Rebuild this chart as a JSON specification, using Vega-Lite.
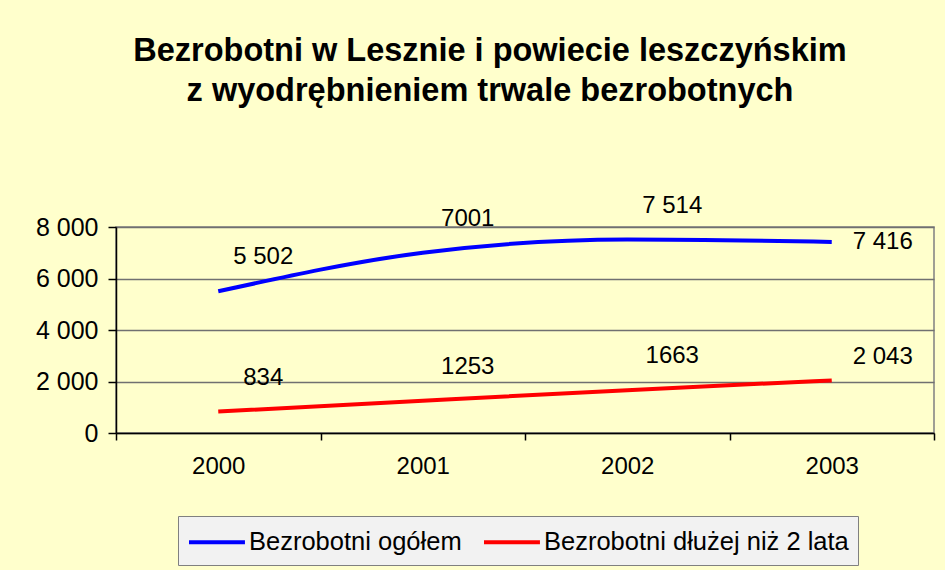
{
  "$schema": "https://vega.github.io/schema/vega-lite/v6.json",
  "autosize": {"type": "none"},
  "width": 818,
  "height": 206,
  "padding": {"left": 116, "top": 227, "right": 11, "bottom": 137},
  "background": "#FFFFCC",
  "title": {
    "text": ["Bezrobotni w Lesznie i powiecie leszczyńskim", "z wyodrębnieniem trwale bezrobotnych"],
    "font": "Liberation Sans",
    "fontSize": 32.5,
    "fontWeight": "bold",
    "lineHeight": 40,
    "color": "#000000",
    "anchor": "middle",
    "dx": -35,
    "offset": 86
  },
  "config": {
    "view": {"stroke": "#808080", "strokeWidth": 1.5},
    "font": "Liberation Sans"
  },
  "data": {
    "values": [
      {"year": "2000", "series": "Bezrobotni ogółem", "value": 5502, "label": "5 502"},
      {"year": "2001", "series": "Bezrobotni ogółem", "value": 7001, "label": "7001"},
      {"year": "2002", "series": "Bezrobotni ogółem", "value": 7514, "label": "7 514"},
      {"year": "2003", "series": "Bezrobotni ogółem", "value": 7416, "label": "7 416"},
      {"year": "2000", "series": "Bezrobotni dłużej niż 2 lata", "value": 834, "label": "834"},
      {"year": "2001", "series": "Bezrobotni dłużej niż 2 lata", "value": 1253, "label": "1253"},
      {"year": "2002", "series": "Bezrobotni dłużej niż 2 lata", "value": 1663, "label": "1663"},
      {"year": "2003", "series": "Bezrobotni dłużej niż 2 lata", "value": 2043, "label": "2 043"}
    ]
  },
  "encoding": {
    "x": {
      "field": "year",
      "type": "ordinal",
      "scale": {"paddingInner": 0, "paddingOuter": 0},
      "axis": {
        "title": null,
        "labelAngle": 0,
        "labelFontSize": 24,
        "labelColor": "#000000",
        "labelPadding": 14,
        "domainColor": "#000000",
        "domainWidth": 1.5,
        "tickColor": "#000000",
        "tickWidth": 1.5,
        "tickSize": 7,
        "tickBand": "extent",
        "grid": false
      }
    },
    "y": {
      "field": "value",
      "type": "quantitative",
      "scale": {"domain": [0, 8000], "nice": false},
      "axis": {
        "title": null,
        "values": [0, 2000, 4000, 6000, 8000],
        "labelExpr": "replace(format(datum.value, ','), /,/g, ' ')",
        "labelFontSize": 25,
        "labelColor": "#000000",
        "labelPadding": 10,
        "domainColor": "#000000",
        "domainWidth": 1.5,
        "tickColor": "#000000",
        "tickWidth": 1.5,
        "tickSize": 8,
        "grid": true,
        "gridColor": "#707070",
        "gridWidth": 1.5
      }
    }
  },
  "layer": [
    {
      "mark": {"type": "line", "interpolate": "monotone", "strokeWidth": 4},
      "encoding": {
        "color": {
          "field": "series",
          "type": "nominal",
          "scale": {
            "domain": ["Bezrobotni ogółem", "Bezrobotni dłużej niż 2 lata"],
            "range": ["#0000FF", "#FF0000"]
          },
          "legend": {
            "title": null,
            "orient": "none",
            "legendX": 62,
            "legendY": 289,
            "direction": "horizontal",
            "labelFontSize": 25.5,
            "labelColor": "#000000",
            "labelFont": "Liberation Sans",
            "labelLimit": 500,
            "labelOffset": 28,
            "symbolType": "M-1,0H2.73",
            "symbolStrokeWidth": 4,
            "symbolSize": 900,
            "columnPadding": 14,
            "padding": 9,
            "fillColor": "#F2F2F2",
            "strokeColor": "#808080"
          }
        }
      }
    },
    {
      "transform": [{"filter": "datum.year != '2003'"}],
      "mark": {"type": "text", "fontSize": 24, "color": "#000000", "align": "center", "baseline": "middle", "dx": 45, "dy": -34},
      "encoding": {"text": {"field": "label"}}
    },
    {
      "transform": [{"filter": "datum.year == '2003' && datum.series == 'Bezrobotni ogółem'"}],
      "mark": {"type": "text", "fontSize": 24, "color": "#000000", "align": "center", "baseline": "middle", "dx": 51, "dy": 0},
      "encoding": {"text": {"field": "label"}}
    },
    {
      "transform": [{"filter": "datum.year == '2003' && datum.series != 'Bezrobotni ogółem'"}],
      "mark": {"type": "text", "fontSize": 24, "color": "#000000", "align": "center", "baseline": "middle", "dx": 51, "dy": -23},
      "encoding": {"text": {"field": "label"}}
    }
  ]
}
